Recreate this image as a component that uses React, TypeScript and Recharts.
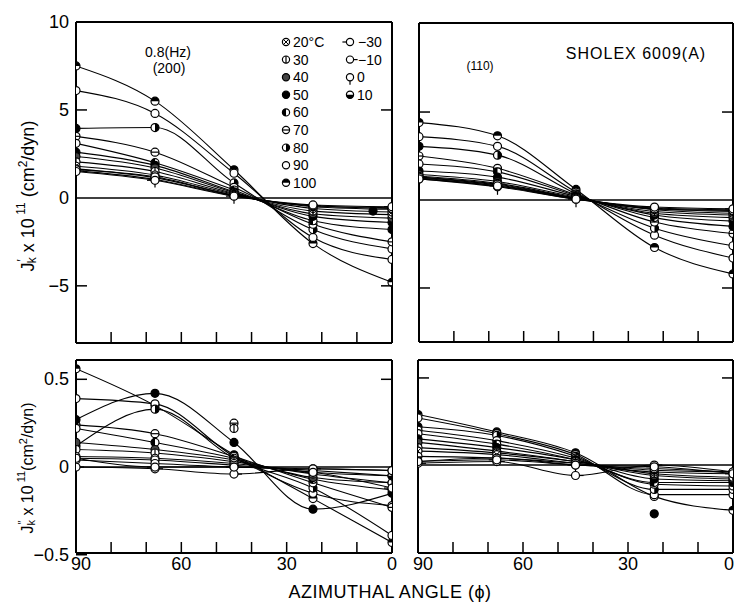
import React from 'react';
import { ComposedChart, Line, Scatter, XAxis, YAxis, ReferenceLine } from 'recharts';

const W = 736;
const H = 603;
const FONT = '"Liberation Sans", Arial, sans-serif';

const ANGLES = [90, 67.5, 45, 22.5, 0];
const TEMPS = [100, 90, 80, 70, 60, 50, 40, 30, 20, 10, 0, -10, -30];
const X_TICKS = [0, 10, 20, 30, 40, 50, 60, 70, 80, 90];
const X_LABELS = [90, 60, 30, 0];
const LEGEND_COL1 = [20, 30, 40, 50, 60, 70, 80, 90, 100];
const LEGEND_COL2 = [-30, -10, 0, 10];

// J'k x 10^11, (200) reflection, rows in TEMPS order
const JP_200 = [
  [7.5, 5.5, 1.6, -2.6, -4.8],
  [6.1, 4.8, 1.4, -2.25, -3.5],
  [3.95, 4.0, 0.85, -1.8, -2.9],
  [3.5, 2.6, 0.6, -1.5, -2.5],
  [3.1, 2.0, 0.45, -1.3, -1.8],
  [2.6, 1.85, 0.35, -1.05, -1.4],
  [2.35, 1.7, 0.3, -0.9, -1.15],
  [2.05, 1.5, 0.25, -0.75, -0.95],
  [1.8, 1.3, 0.2, -0.6, -0.8],
  [1.65, 1.15, 0.15, -0.5, -0.65],
  [1.55, 1.05, 0.12, -0.45, -0.56],
  [1.6, 1.2, 0.15, -0.45, -0.6],
  [1.5, 1.0, 0.1, -0.4, -0.5],
];
// J'k x 10^11, (110) reflection
const JP_110 = [
  [4.4, 3.65, 0.6, -2.7, -4.2],
  [3.6, 3.05, 0.45, -2.0, -3.3],
  [3.05, 2.55, 0.35, -1.6, -2.6],
  [2.5, 1.8, 0.3, -1.25, -1.9],
  [2.05, 1.6, 0.25, -1.0, -1.5],
  [1.65, 1.3, 0.2, -0.85, -1.2],
  [1.45, 1.05, 0.15, -0.75, -1.0],
  [1.35, 0.95, 0.12, -0.65, -0.85],
  [1.3, 0.85, 0.1, -0.55, -0.75],
  [1.25, 0.8, 0.08, -0.5, -0.65],
  [1.2, 0.75, 0.05, -0.45, -0.55],
  [1.3, 0.9, 0.1, -0.5, -0.6],
  [1.2, 0.8, 0.05, -0.4, -0.5],
];
// J''k x 10^11, (200) reflection
const JPP_200 = [
  [0.56, 0.35, 0.07, -0.18, -0.43],
  [0.39, 0.36, 0.06, -0.15, -0.22],
  [0.12, 0.33, 0.05, -0.12, -0.39],
  [0.24, 0.19, 0.06, -0.09, -0.23],
  [0.22, 0.14, 0.05, -0.07, -0.13],
  [0.27, 0.42, 0.14, -0.24, -0.15],
  [0.14, 0.1, 0.04, -0.06, -0.09],
  [0.1, 0.08, 0.03, -0.04, -0.09],
  [0.06, 0.05, 0.02, -0.03, -0.05],
  [0.05, 0.04, 0.01, -0.02, -0.05],
  [0.04, 0.02, 0.0, -0.01, -0.02],
  [0.0, -0.01, -0.04, -0.01, -0.02],
  [0.05, 0.0, 0.0, -0.03, -0.12],
];
// J''k x 10^11, (110) reflection
const JPP_110 = [
  [0.29, 0.19, 0.07, -0.18, -0.26],
  [0.27, 0.18, 0.06, -0.17, -0.17],
  [0.22, 0.17, 0.05, -0.14, -0.14],
  [0.2, 0.14, 0.04, -0.11, -0.12],
  [0.18, 0.12, 0.03, -0.1, -0.1],
  [0.15, 0.1, 0.03, -0.08, -0.09],
  [0.13, 0.08, 0.02, -0.06, -0.08],
  [0.1, 0.07, 0.02, -0.05, -0.07],
  [0.08, 0.06, 0.01, -0.04, -0.05],
  [0.05, 0.04, 0.01, -0.03, -0.04],
  [0.02, 0.04, 0.0, -0.02, -0.04],
  [0.01, 0.02, -0.06, 0.0, -0.04],
  [0.02, 0.03, 0.0, -0.01, -0.05],
];

const OUT_JP_200 = [{ phi: 5.4, v: -0.75, t: 50 }];
const OUT_JP_110: { phi: number; v: number; t: number }[] = [];
const OUT_JPP_200 = [
  { phi: 45, v: 0.25, t: 70 },
  { phi: 45, v: 0.22, t: 30 },
];
const OUT_JPP_110 = [{ phi: 22.5, v: -0.28, t: 50 }];

const MARK: Record<string, string> = {
  '20': 'cross',
  '30': 'vline',
  '40': 'grey',
  '50': 'fill',
  '60': 'halfL',
  '70': 'hline',
  '80': 'halfR',
  '90': 'open',
  '100': 'halfT',
  '10': 'halfB',
  '0': 'stem',
  '-10': 'tickR',
  '-30': 'tickL',
};

function Marker({ cx, cy, t, r = 4 }: { cx: number; cy: number; t: number; r?: number }) {
  if (cx == null || cy == null || isNaN(cx) || isNaN(cy)) return <g />;
  const k = MARK[String(t)] || 'open';
  const sw = 1.2;
  const fill = k === 'fill' ? '#000' : k === 'grey' ? '#444' : '#fff';
  const extras: React.ReactNode[] = [];
  if (k === 'cross') {
    const d = r * 0.7;
    extras.push(<path key="c" d={`M${cx - d},${cy - d}L${cx + d},${cy + d}M${cx - d},${cy + d}L${cx + d},${cy - d}`} stroke="#000" strokeWidth={1} />);
  } else if (k === 'vline') {
    extras.push(<line key="v" x1={cx} x2={cx} y1={cy - r} y2={cy + r} stroke="#000" strokeWidth={1.2} />);
  } else if (k === 'hline') {
    extras.push(<line key="h" x1={cx - r} x2={cx + r} y1={cy} y2={cy} stroke="#000" strokeWidth={1.2} />);
  } else if (k === 'halfL') {
    extras.push(<path key="hl" d={`M${cx},${cy - r}A${r},${r} 0 0 0 ${cx},${cy + r}Z`} fill="#000" />);
  } else if (k === 'halfR') {
    extras.push(<path key="hr" d={`M${cx},${cy - r}A${r},${r} 0 0 1 ${cx},${cy + r}Z`} fill="#000" />);
  } else if (k === 'halfT') {
    extras.push(<path key="ht" d={`M${cx - r},${cy}A${r},${r} 0 0 1 ${cx + r},${cy}Z`} fill="#000" />);
  } else if (k === 'halfB') {
    extras.push(<path key="hb" d={`M${cx - r},${cy}A${r},${r} 0 0 0 ${cx + r},${cy}Z`} fill="#000" />);
  } else if (k === 'stem') {
    extras.push(<line key="s" x1={cx} x2={cx} y1={cy + r} y2={cy + r + 4} stroke="#000" strokeWidth={1.2} />);
  } else if (k === 'tickR') {
    extras.push(<line key="tr" x1={cx + r} x2={cx + r + 4} y1={cy} y2={cy} stroke="#000" strokeWidth={1.2} />);
  } else if (k === 'tickL') {
    extras.push(<line key="tl" x1={cx - r - 4} x2={cx - r} y1={cy} y2={cy} stroke="#000" strokeWidth={1.2} />);
  }
  return (
    <g>
      <circle cx={cx} cy={cy} r={r} fill={fill} stroke="#000" strokeWidth={sw} />
      {extras}
    </g>
  );
}

type Plot = { l: number; t: number; r: number; b: number };

const AX = { stroke: '#000', strokeWidth: 2 };
const TICK_LEN = 11;

function Panel(props: {
  rows: number[][];
  outliers: { phi: number; v: number; t: number }[];
  domain: [number, number];
  plot: Plot;
  yLeftTicks: number[];
  yRightTicks: number[];
  yLabels: boolean;
  xLabels: boolean;
}) {
  const { rows, outliers, domain, plot, yLeftTicks, yRightTicks, yLabels, xLabels } = props;
  const margin = { left: plot.l - 1, top: plot.t - 1, right: W - plot.r - 1, bottom: H - plot.b - 1 };

  const bottomTick = (p: any) => {
    const v = p.payload.value;
    const showTick = v !== 0 && v !== 90;
    const showLab = xLabels && X_LABELS.indexOf(v) >= 0;
    let lx = p.x + (v === 90 ? 5 : 0);
    if (lx > W - 7) lx = W - 7;
    return (
      <g>
        {showTick && <line x1={p.x} x2={p.x} y1={p.y} y2={p.y - TICK_LEN} stroke="#000" strokeWidth={1.5} />}
        {showLab && (
          <text x={lx} y={p.y + 17} textAnchor="middle" fontFamily={FONT} fontSize={18} fill="#000">
            {v}
          </text>
        )}
      </g>
    );
  };
  const leftTick = (p: any) => {
    const v = p.payload.value;
    const lab = v < 0 ? `\u2212${Math.abs(v)}` : `${v}`;
    return (
      <g>
        {v !== 0 && <line x1={p.x} x2={p.x + TICK_LEN} y1={p.y} y2={p.y} stroke="#000" strokeWidth={1.5} />}
        {yLabels && (
          <text x={p.x - 7} y={p.y + 6} textAnchor="end" fontFamily={FONT} fontSize={18} fill="#000">
            {lab}
          </text>
        )}
      </g>
    );
  };
  const rightTick = (p: any) => (
    <line x1={p.x} x2={p.x - TICK_LEN} y1={p.y} y2={p.y} stroke="#000" strokeWidth={1.5} />
  );

  return (
    <div style={{ position: 'absolute', left: 0, top: 0 }}>
      <ComposedChart width={W} height={H} margin={margin}>
        <XAxis
          xAxisId="b"
          type="number"
          dataKey="phi"
          domain={[0, 90]}
          reversed
          ticks={X_TICKS}
          interval={0}
          height={1}
          tickSize={0}
          tickMargin={0}
          axisLine={AX}
          tickLine={false}
          tick={bottomTick}
          allowDataOverflow
        />
        <XAxis
          xAxisId="t"
          orientation="top"
          type="number"
          dataKey="phi"
          domain={[0, 90]}
          reversed
          height={1}
          axisLine={AX}
          tick={false}
          tickLine={false}
          allowDataOverflow
        />
        <YAxis
          yAxisId="l"
          type="number"
          domain={domain}
          ticks={yLeftTicks}
          interval={0}
          width={1}
          tickSize={0}
          tickMargin={0}
          axisLine={AX}
          tickLine={false}
          tick={leftTick}
          allowDataOverflow
        />
        <YAxis
          yAxisId="r"
          orientation="right"
          type="number"
          domain={domain}
          ticks={yRightTicks}
          interval={0}
          width={1}
          tickSize={0}
          tickMargin={0}
          axisLine={AX}
          tickLine={false}
          tick={rightTick}
          allowDataOverflow
        />
        <ReferenceLine xAxisId="b" yAxisId="l" y={0} stroke="#000" strokeWidth={1.5} />
        {rows.map((row, i) => (
          <Line
            key={`l${i}`}
            xAxisId="b"
            yAxisId="l"
            data={ANGLES.map((phi, j) => ({ phi, v: row[j] }))}
            dataKey="v"
            type="monotone"
            stroke="#000"
            strokeWidth={1.1}
            isAnimationActive={false}
            dot={(p: any) => <Marker key={`m${i}-${p.index}`} cx={p.cx} cy={p.cy} t={TEMPS[i]} />}
            activeDot={false}
          />
        ))}
        {outliers.length > 0 && (
          <Scatter
            xAxisId="b"
            yAxisId="l"
            data={outliers}
            dataKey="v"
            isAnimationActive={false}
            shape={(p: any) => <Marker cx={p.cx} cy={p.cy} t={p.payload.t} />}
          />
        )}
      </ComposedChart>
    </div>
  );
}

function Overlay() {
  const txt = { fontFamily: FONT, fill: '#000' } as const;
  return (
    <svg width={W} height={H} style={{ position: 'absolute', left: 0, top: 0 }}>
      {/* panel annotations */}
      <text x={168} y={57} textAnchor="middle" fontSize={14} {...txt}>0.8(Hz)</text>
      <text x={169} y={73} textAnchor="middle" fontSize={14} {...txt}>(200)</text>
      <text x={480} y={70} textAnchor="middle" fontSize={12} {...txt}>(110)</text>
      <text x={636} y={59} textAnchor="middle" fontSize={16} letterSpacing={1} {...txt}>SHOLEX 6009(A)</text>

      {/* legend */}
      {LEGEND_COL1.map((t, i) => (
        <g key={`a${t}`}>
          <Marker cx={286} cy={42 + i * 17.6} t={t} r={3.6} />
          <text x={293} y={42 + i * 17.6 + 5} fontSize={14} {...txt}>
            {t === 20 ? '20\u00b0C' : `${t}`}
          </text>
        </g>
      ))}
      {LEGEND_COL2.map((t, i) => (
        <g key={`b${t}`}>
          <Marker cx={350} cy={42 + i * 17.6} t={t} r={3.6} />
          <text x={t < 0 ? 358 : 357} y={42 + i * 17.6 + 5} fontSize={14} {...txt}>
            {t < 0 ? `\u2212${Math.abs(t)}` : `${t}`}
          </text>
        </g>
      ))}

      {/* y-axis titles */}
      <text transform="translate(34,196) rotate(-90)" textAnchor="middle" fontSize={18} {...txt}>
        J<tspan fontSize={12} dx={1} dy={-8}>{'\u2032'}</tspan>
        <tspan fontSize={12} dx={-4} dy={10}>k</tspan>
        <tspan dy={-2}> x 10</tspan>
        <tspan fontSize={12} dy={-9}> 11</tspan>
        <tspan dy={9}> (cm</tspan>
        <tspan fontSize={12} dy={-7}>2</tspan>
        <tspan dy={7}>/dyn)</tspan>
      </text>
      <text transform="translate(33,468) rotate(-90)" textAnchor="middle" fontSize={16} {...txt}>
        J<tspan fontSize={11} dx={1} dy={-7}>{'\u2033'}</tspan>
        <tspan fontSize={11} dx={-5} dy={9}>k</tspan>
        <tspan dy={-2}> x 10</tspan>
        <tspan fontSize={11} dy={-8}> 11</tspan>
        <tspan dy={8}>(cm</tspan>
        <tspan fontSize={11} dy={-6}>2</tspan>
        <tspan dy={6}>/dyn)</tspan>
      </text>

      {/* x-axis title */}
      <text x={390} y={598} textAnchor="middle" fontSize={18} letterSpacing={0.5} {...txt}>
        AZIMUTHAL ANGLE ({'\u03d5'})
      </text>
    </svg>
  );
}

export default function App() {
  return (
    <div style={{ position: 'fixed', left: 0, top: 0, width: W, height: H, background: '#fff', overflow: 'hidden' }}>
      <Panel
        rows={JP_200}
        outliers={OUT_JP_200}
        domain={[-8.25, 10]}
        plot={{ l: 76, t: 22, r: 392, b: 343 }}
        yLeftTicks={[-5, 0, 5, 10]}
        yRightTicks={[-5, 5]}
        yLabels
        xLabels={false}
      />
      <Panel
        rows={JP_110}
        outliers={OUT_JP_110}
        domain={[-8.07, 10.06]}
        plot={{ l: 419, t: 23, r: 733, b: 342 }}
        yLeftTicks={[-5, 0, 5]}
        yRightTicks={[-5, 5]}
        yLabels={false}
        xLabels={false}
      />
      <Panel
        rows={JPP_200}
        outliers={OUT_JPP_200}
        domain={[-0.49, 0.61]}
        plot={{ l: 76, t: 360, r: 392, b: 553 }}
        yLeftTicks={[-0.5, 0, 0.5]}
        yRightTicks={[0.5]}
        yLabels
        xLabels
      />
      <Panel
        rows={JPP_110}
        outliers={OUT_JPP_110}
        domain={[-0.505, 0.603]}
        plot={{ l: 418, t: 360, r: 733, b: 553 }}
        yLeftTicks={[0, 0.5]}
        yRightTicks={[0.5]}
        yLabels={false}
        xLabels
      />
      <Overlay />
    </div>
  );
}
